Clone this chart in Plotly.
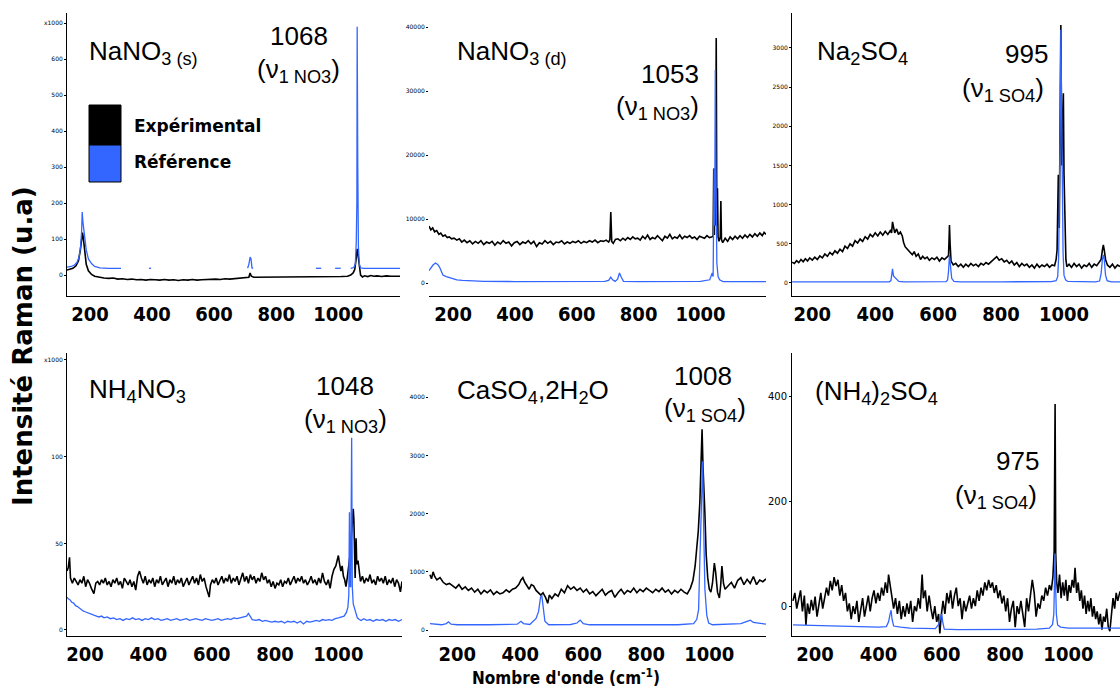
import plotly.graph_objects as go

# ---------------- DATA (wavenumber cm-1, intensity a.u.) ----------------
NANO3_S_EXP = [(126,14),(135,16),(145,19),(155,26),(163,40),(169,70),(173,105),(176,118),(179,100),(183,60),(188,30),(195,12),(205,2),(215,-3),(230,-6),(245,-8),(260,-9),(275,-8),(290,-11),(305,-10),(320,-12),(335,-11),(350,-13),(365,-12),(380,-14),(395,-12),(410,-13),(425,-14),(440,-12),(455,-14),(470,-13),(485,-15),(500,-13),(515,-14),(530,-12),(545,-14),(560,-13),(575,-12),(590,-13),(605,-11),(620,-12),(635,-10),(650,-11),(665,-10),(680,-9),(695,-9),(705,-8),(712,-6),(716,6),(720,-3),(728,-6),(745,-6),(770,-5),(800,-6),(830,-5),(860,-6),(890,-5),(920,-6),(950,-5),(980,-5),(1010,-4),(1030,-3),(1040,0),(1048,6),(1053,15),(1057,40),(1061,73),(1064,55),(1068,20),(1072,0),(1078,-5),(1085,-2),(1095,-4),(1105,-1),(1115,-3),(1125,-2),(1140,-4),(1155,-2),(1170,-3),(1185,-2),(1199,-3)]
NANO3_S_REF = [(126,22),(140,24),(150,28),(158,35),(165,50),(170,80),(173,120),(175,175),(177,150),(180,125),(184,110),(188,70),(195,45),(205,32),(215,24),(232,20),(260,19),(300,19),(None,None),(390,19),(397,19),(None,None),(708,19),(712,30),(716,50),(719,45),(722,20),(726,19),(None,None),(928,19),(945,19),(None,None),(990,19),(1008,19),(None,None),(1040,19),(1050,21),(1055,30),(1058,90),(1060,200),(1061,690),(1063,300),(1065,80),(1068,30),(1072,20),(1085,19),(1199,19)]

NANO3_D_EXP = [(122,8900),(128,8300),(134,8600),(140,8000),(147,8200),(154,7600),(160,7800),(167,7300),(174,7500),(181,7100),(188,7200),(195,6900),(203,7000),(212,6700),(220,6900),(228,6400),(236,6700),(245,6300),(254,6600),(263,6100),(272,6500),(281,6200),(290,6600),(299,6000),(308,6400),(317,6200),(326,6500),(335,5900),(344,6400),(353,6100),(362,6600),(371,6200),(380,6400),(389,5800),(398,6300),(407,6500),(416,6000),(425,6400),(434,6200),(443,6600),(452,6100),(461,6500),(470,5700),(479,6300),(488,6100),(497,6600),(506,6200),(515,6500),(524,6000),(533,6400),(542,6300),(551,6600),(560,6100),(569,6400),(578,6200),(587,6500),(596,6300),(605,6600),(614,6200),(623,6500),(632,6300),(641,6600),(650,6400),(659,6700),(668,6300),(677,6600),(686,6500),(695,6700),(703,6400),(707,6800),(710,11100),(713,6500),(718,6200),(725,6800),(733,6900),(741,6600),(749,7000),(757,6700),(765,7100),(773,6800),(781,7200),(789,6900),(797,7000),(805,6700),(813,7300),(821,6900),(829,7500),(837,6800),(845,7100),(853,6900),(861,7400),(869,7000),(877,6600),(885,7300),(893,7000),(901,7600),(909,6900),(917,7200),(925,7000),(933,7500),(941,6900),(949,7300),(957,7100),(965,7400),(973,7000),(981,7200),(989,6800),(997,7300),(1005,7100),(1013,7000),(1021,7400),(1029,7100),(1036,7200),(1041,7300),(1043,17900),(1045,7500),(1047,17900),(1049,9000),(1051,38300),(1053,9000),(1055,14800),(1057,7200),(1060,6500),(1064,7200),(1066,12800),(1068,6800),(1072,6300),(1080,7000),(1088,6500),(1096,7200),(1104,6800),(1112,7300),(1120,6900),(1128,7400),(1136,7000),(1144,7500),(1152,7100),(1160,7600),(1168,7200),(1176,7700),(1184,7300),(1192,7800),(1200,7400),(1206,7900),(1212,7600)]
NANO3_D_REF = [(122,1930),(129,2500),(135,2810),(143,3125),(150,2900),(156,2500),(162,1800),(167,1250),(178,1000),(189,860),(200,650),(212,500),(230,400),(255,340),(300,250),(400,230),(500,230),(600,230),(650,220),(690,240),(703,400),(710,920),(716,500),(724,250),(732,600),(738,1560),(744,900),(751,250),(800,230),(900,230),(1000,240),(1030,500),(1038,1560),(1041,1000),(1044,17900),(1046,9000),(1048,33300),(1050,18000),(1053,3125),(1057,1000),(1062,500),(1073,230),(1100,230),(1150,230),(1212,230)]

NA2SO4_EXP = [(136,264),(143,250),(150,285),(157,260),(164,300),(171,270),(178,310),(185,280),(192,320),(200,293),(208,330),(216,300),(224,345),(232,320),(240,370),(248,340),(256,390),(264,360),(272,410),(280,380),(288,430),(296,400),(304,470),(312,440),(320,500),(328,470),(336,540),(344,510),(352,560),(360,530),(368,590),(376,560),(384,620),(392,590),(400,640),(408,600),(416,650),(424,610),(432,660),(440,620),(448,670),(452,640),(455,780),(458,700),(462,640),(468,690),(474,620),(480,650),(486,600),(490,520),(495,463),(500,440),(506,410),(512,380),(518,360),(524,400),(530,340),(537,370),(544,300),(551,340),(558,310),(565,330),(572,290),(580,320),(588,300),(596,330),(604,280),(612,320),(620,300),(628,330),(633,350),(635,600),(636,740),(638,500),(641,280),(648,230),(656,250),(664,210),(672,240),(680,200),(688,240),(696,210),(704,250),(712,220),(720,240),(728,210),(736,250),(744,230),(752,260),(760,240),(768,270),(776,300),(786,336),(794,290),(802,310),(810,270),(818,290),(826,250),(834,280),(842,230),(850,260),(858,210),(866,250),(874,220),(882,240),(890,200),(898,230),(906,190),(914,240),(922,200),(930,230),(938,210),(946,240),(954,200),(962,230),(970,220),(975,300),(978,421),(982,1380),(985,700),(988,1800),(990,3290),(993,1500),(996,2000),(998,2420),(1000,1400),(1003,676),(1006,300),(1009,208),(1016,240),(1024,200),(1032,250),(1040,210),(1048,240),(1056,190),(1064,230),(1072,210),(1080,250),(1088,200),(1096,240),(1104,220),(1112,260),(1118,300),(1122,420),(1125,485),(1128,420),(1132,300),(1138,230),(1146,200),(1154,240),(1162,190),(1170,230),(1178,210)]
NA2SO4_REF = [(136,15),(200,15),(300,15),(400,15),(445,15),(450,30),(453,100),(455,180),(458,90),(462,70),(468,40),(475,20),(490,15),(600,15),(625,18),(630,40),(633,150),(636,357),(639,200),(643,60),(650,20),(670,15),(800,15),(900,15),(960,18),(975,30),(980,80),(983,330),(986,1200),(988,2000),(990,3230),(992,2500),(994,1199),(997,400),(1000,100),(1005,40),(1012,20),(1050,15),(1100,15),(1113,25),(1118,120),(1122,300),(1125,357),(1128,300),(1132,100),(1137,30),(1150,15),(1178,15)]

NH4NO3_EXP = [(143,34),(147,36),(151,42),(154,30),(160,27),(166,30),(172,28),(178,26),(184,29),(190,27),(196,31),(202,25),(208,29),(214,27),(220,24),(228,21),(234,27),(240,28),(246,26),(252,29),(258,27),(264,30),(270,26),(276,28),(282,25),(288,29),(294,27),(300,30),(306,26),(312,28),(318,24),(324,30),(330,28),(336,26),(342,29),(348,25),(354,28),(360,23),(366,31),(372,34),(378,30),(384,27),(390,31),(396,26),(402,29),(408,27),(414,30),(420,25),(426,29),(432,27),(438,31),(444,26),(450,28),(456,30),(462,25),(468,29),(474,27),(480,31),(486,26),(492,29),(498,27),(504,30),(510,25),(516,28),(522,30),(528,26),(534,29),(540,31),(546,27),(552,30),(558,26),(564,32),(570,28),(576,30),(582,25),(588,22),(592,19),(596,26),(602,29),(608,27),(614,30),(620,26),(626,29),(632,31),(638,27),(644,30),(650,28),(656,32),(662,27),(668,30),(674,28),(680,31),(686,26),(692,30),(698,33),(704,28),(710,31),(716,27),(722,32),(728,29),(734,31),(740,27),(746,30),(752,28),(758,33),(764,29),(770,31),(776,27),(782,29),(788,25),(794,28),(800,24),(806,27),(812,26),(818,29),(824,25),(830,28),(836,27),(842,30),(848,26),(854,29),(860,31),(866,27),(872,30),(878,28),(884,31),(890,27),(896,29),(902,26),(908,28),(914,31),(920,27),(926,29),(932,26),(938,30),(944,27),(950,33),(956,28),(962,26),(968,29),(974,24),(980,31),(986,35),(992,37),(996,40),(1000,43),(1004,38),(1008,34),(1012,37),(1016,31),(1020,29),(1024,25),(1028,30),(1032,35),(1036,42),(1040,50),(1044,60),(1047,70),(1049,64),(1051,40),(1053,30),(1056,53),(1058,38),(1062,40),(1066,33),(1070,28),(1076,31),(1082,27),(1088,30),(1094,28),(1100,32),(1106,27),(1112,29),(1118,26),(1124,31),(1130,28),(1136,30),(1142,27),(1148,31),(1154,26),(1160,29),(1166,27),(1172,30),(1178,25),(1184,29),(1190,27),(1196,22),(1201,28)]
NH4NO3_REF = [(143,19),(147,18),(152,17.5),(158,16),(164,15.5),(170,14),(176,13.5),(182,12.5),(188,12),(194,11),(200,10.5),(206,10),(212,9.5),(220,9),(228,8.5),(236,8),(244,7.5),(252,8),(260,7),(270,7.5),(280,6.5),(290,7),(300,6),(310,6.5),(320,5.5),(330,6.5),(340,6),(350,7),(360,6),(370,6.5),(380,5.5),(390,6.5),(400,6),(410,7),(420,6),(430,6.5),(440,5.5),(450,6),(460,6.5),(470,5.5),(480,6),(490,6.5),(500,5.5),(510,6),(520,6.5),(530,5.5),(540,6),(550,6.5),(560,6),(570,5.5),(580,6.5),(590,6),(600,5.5),(610,6),(620,6.5),(630,5.5),(640,6),(650,6.5),(660,6),(670,7),(680,6.5),(690,7),(700,7.5),(710,8),(716,9.5),(722,8),(728,6),(740,5.5),(750,6),(760,5),(770,5.5),(780,5),(790,4.5),(800,5),(810,4.5),(820,5),(830,4),(840,5),(850,4.5),(860,5),(870,4),(880,5),(890,3.5),(900,5),(910,4.5),(920,5),(930,5.5),(940,5),(950,6),(960,5.5),(970,6),(980,5.5),(990,6.5),(1000,7),(1010,7.5),(1018,8),(1025,10),(1030,13),(1033,20),(1035,68),(1037,25),(1039,25),(1042,111),(1044,25),(1047,15),(1050,13),(1055,10),(1060,7),(1066,6),(1072,5.5),(1080,6.5),(1090,5.5),(1100,6),(1110,5),(1120,6),(1130,5.5),(1140,6),(1150,5),(1160,6),(1170,5.5),(1180,6),(1190,5),(1201,6)]

GYPSUM_EXP = [(113,950),(118,880),(123,1000),(128,920),(135,860),(145,900),(155,820),(165,780),(175,800),(185,760),(195,720),(205,780),(215,700),(225,740),(235,680),(245,720),(255,650),(265,700),(275,620),(285,680),(295,640),(305,690),(315,610),(325,660),(335,620),(345,640),(355,690),(365,650),(375,700),(385,720),(395,780),(402,860),(408,900),(414,820),(420,760),(428,700),(435,780),(442,760),(450,680),(458,640),(465,600),(472,640),(480,560),(487,460),(492,600),(500,540),(510,620),(520,580),(530,700),(540,640),(550,760),(560,700),(570,740),(580,680),(590,720),(600,650),(610,700),(620,620),(630,660),(640,590),(650,640),(660,700),(670,600),(680,650),(690,680),(700,560),(710,640),(720,700),(730,620),(740,680),(750,650),(760,720),(770,640),(780,700),(790,660),(800,720),(810,680),(820,640),(830,700),(840,660),(850,720),(860,650),(870,690),(880,620),(890,680),(900,640),(910,700),(920,650),(930,620),(940,720),(948,850),(955,1100),(960,1400),(965,1700),(970,2200),(974,2900),(977,3450),(980,2800),(983,2500),(986,2000),(990,1300),(995,900),(1000,700),(1005,650),(1010,800),(1016,1150),(1020,1000),(1026,650),(1032,550),(1036,760),(1040,1100),(1045,800),(1050,700),(1060,760),(1070,820),(1080,720),(1090,850),(1100,900),(1110,780),(1120,870),(1130,800),(1140,920),(1150,780),(1160,860),(1170,830),(1180,880)]
GYPSUM_REF = [(113,110),(130,95),(150,90),(165,110),(172,140),(180,100),(200,90),(300,90),(390,100),(402,150),(410,110),(430,95),(450,200),(458,320),(464,560),(468,600),(472,450),(478,150),(490,90),(560,95),(580,120),(590,170),(600,110),(620,90),(900,90),(950,110),(960,180),(966,350),(970,1200),(975,2000),(979,2900),(982,1800),(986,700),(992,250),(998,120),(1010,90),(1050,100),(1100,110),(1120,150),(1130,170),(1140,130),(1160,110),(1180,100)]

NH42SO4_EXP = [(130,10),(136,25),(142,-5),(148,15),(154,30),(160,-10),(166,20),(171,-36),(176,5),(182,-15),(188,12),(194,-8),(200,18),(206,-20),(212,8),(218,25),(224,-5),(230,15),(236,35),(242,20),(248,48),(254,30),(260,55),(266,38),(272,50),(278,20),(284,40),(290,10),(296,25),(302,-10),(308,5),(314,-25),(320,0),(326,-15),(332,10),(338,-30),(344,-5),(350,15),(356,-20),(362,0),(368,20),(374,-10),(380,15),(386,30),(392,5),(398,25),(404,10),(410,35),(416,20),(422,45),(428,25),(432,60),(436,40),(442,20),(448,-5),(454,15),(460,-15),(466,10),(472,-25),(478,0),(484,-20),(490,5),(496,-15),(502,10),(508,-30),(514,0),(520,-10),(526,15),(532,-5),(538,60),(542,15),(548,30),(554,-10),(560,20),(566,-5),(572,-25),(578,0),(584,-30),(590,-15),(594,-52),(598,-20),(604,10),(610,-15),(616,25),(622,5),(628,30),(634,-5),(640,20),(646,35),(652,0),(658,15),(664,-25),(670,10),(676,-10),(682,5),(688,20),(694,-5),(700,15),(706,0),(712,30),(718,10),(724,35),(730,20),(736,45),(742,30),(748,50),(754,35),(760,45),(766,25),(772,40),(778,15),(784,30),(790,5),(796,20),(802,-10),(808,15),(814,-30),(820,-5),(826,10),(832,-40),(838,0),(844,-15),(850,10),(856,-20),(862,-40),(868,15),(874,-10),(880,20),(886,50),(892,25),(898,-20),(904,5),(910,-5),(916,20),(922,10),(928,35),(934,20),(940,40),(946,30),(951,55),(955,105),(958,385),(960,100),(963,45),(967,25),(972,60),(977,15),(982,45),(987,20),(992,50),(997,10),(1002,40),(1007,25),(1012,50),(1017,35),(1021,73),(1026,25),(1031,45),(1036,10),(1041,30),(1046,-5),(1051,20),(1056,-15),(1061,10),(1066,-10),(1071,15),(1076,-20),(1081,0),(1086,-25),(1091,-10),(1096,-35),(1101,-15),(1106,-45),(1111,-20),(1116,-30),(1121,-5),(1126,-40),(1131,-48),(1136,-10),(1141,15),(1146,-5),(1151,25),(1156,10),(1163,28)]
NH42SO4_REF = [(130,-36),(200,-37),(300,-39),(400,-40),(425,-39),(432,-30),(437,-15),(440,-8),(443,-25),(448,-38),(470,-40),(500,-42),(580,-43),(590,-35),(596,-22),(600,-15),(603,-30),(608,-44),(650,-45),(700,-45),(800,-45),(900,-44),(940,-42),(950,-35),(954,-15),(956,60),(958,100),(960,30),(962,-15),(966,-36),(975,-40),(1000,-42),(1100,-42),(1163,-42)]

X_TICKS = [200, 400, 600, 800, 1000]
X_TICK_TEXT = ["200", "400", "600", "800", "1000"]

NAMES = ["NaNO<sub>3 (s)</sub>", "NaNO<sub>3 (d)</sub>", "Na<sub>2</sub>SO<sub>4</sub>",
         "NH<sub>4</sub>NO<sub>3</sub>", "CaSO<sub>4</sub>,2H<sub>2</sub>O", "(NH<sub>4</sub>)<sub>2</sub>SO<sub>4</sub>"]
PEAKS = ["1068", "1053", "995", "1048", "1008", "975"]
MODES = ["(ν<sub>1 NO3</sub>)", "(ν<sub>1 NO3</sub>)", "(ν<sub>1 SO4</sub>)",
         "(ν<sub>1 NO3</sub>)", "(ν<sub>1 SO4</sub>)", "(ν<sub>1 SO4</sub>)"]

Y_TICKS = [[0, 100, 200, 300, 400, 500, 600, 700],
           [0, 10000, 20000, 30000, 40000],
           [0, 500, 1000, 1500, 2000, 2500, 3000],
           [0, 50, 100, 156],
           [0, 1000, 2000, 3000, 4000],
           [0, 200, 400]]
Y_TICK_TEXT = [["0", "100", "200", "300", "400", "500", "600", "x1000"],
               ["0", "10000", "20000", "30000", "40000"],
               ["0", "500", "1000", "1500", "2000", "2500", "3000"],
               ["0", "50", "100", "x1000"],
               ["0", "1000", "2000", "3000", "4000"],
               ["0", "200", "400"]]

# ---------------- LAYOUT (pixel geometry) ----------------
W, H = 1120, 692
def fx(px): return px / W
def fy(py): return 1 - py / H

BLUE = "#3366ff"
SERIES = [(NANO3_S_EXP, NANO3_S_REF), (NANO3_D_EXP, NANO3_D_REF), (NA2SO4_EXP, NA2SO4_REF),
          (NH4NO3_EXP, NH4NO3_REF), (GYPSUM_EXP, GYPSUM_REF), (NH42SO4_EXP, NH42SO4_REF)]
PANEL_X = [(67, 400), (429, 766), (792, 1120), (67, 402), (429, 766), (792, 1120)]
PANEL_Y = [(296, 13), (296, 13), (296, 13), (636, 353), (636, 353), (636, 353)]
X_RANGE = [[126, 1199], [122, 1212], [135.5, 1178], [143, 1201], [110, 1180], [127, 1163]]
Y_RANGE = [[-58, 728], [-2031, 42188], [-166, 3444], [-3.5, 160], [-103, 4760], [-57, 482]]
Y_LINE = [True, False, True, True, False, True]
Y_FONT = [6, 6, 6, 6, 6, 10]

NAME_POS = [(87, 52), (455, 52), (815, 52), (87, 390), (455, 391), (813, 392)]
PEAK_POS = [(299, 36), (670, 74), (1026, 54), (345, 386), (703, 376), (1017, 461)]
MODE_POS = [(298, 70), (657, 108), (1003, 90), (345, 420), (705, 410), (996, 496)]

fig = go.Figure()
layout = {}
annotations = []
tickfont_x = dict(family="DejaVu Sans Condensed, DejaVu Sans, sans-serif", size=20,
                  color="black", weight="bold")
for i, (exp, ref) in enumerate(SERIES):
    n = "" if i == 0 else str(i + 1)
    for data, col, wd in ((exp, "black", 1.6), (ref, BLUE, 1.3)):
        fig.add_trace(go.Scatter(x=[p[0] for p in data], y=[p[1] for p in data], mode="lines",
                                 line=dict(color=col, width=wd), connectgaps=False,
                                 xaxis="x" + n, yaxis="y" + n, showlegend=False, hoverinfo="skip"))
    layout["xaxis" + n] = dict(domain=[fx(PANEL_X[i][0]), fx(PANEL_X[i][1])], range=X_RANGE[i],
                               anchor="y" + n, showgrid=False, zeroline=False, showline=True,
                               linecolor="black", linewidth=1, tickvals=X_TICKS, ticktext=X_TICK_TEXT,
                               ticks="", tickfont=tickfont_x)
    layout["yaxis" + n] = dict(domain=[fy(PANEL_Y[i][0]), fy(PANEL_Y[i][1])], range=Y_RANGE[i],
                               anchor="x" + n, showgrid=False, zeroline=False, showline=Y_LINE[i],
                               linecolor="black", linewidth=1, tickvals=Y_TICKS[i],
                               ticktext=Y_TICK_TEXT[i], ticks="outside", ticklen=2, tickcolor="black",
                               tickfont=dict(family="DejaVu Sans", size=Y_FONT[i], color="black"))
    annotations.append(dict(text=NAMES[i], x=fx(NAME_POS[i][0]), y=fy(NAME_POS[i][1]),
                            xref="paper", yref="paper", xanchor="left", yanchor="middle", showarrow=False,
                            font=dict(family="Liberation Sans, Arial, sans-serif", size=26, color="black")))
    annotations.append(dict(text=PEAKS[i], x=fx(PEAK_POS[i][0]), y=fy(PEAK_POS[i][1]),
                            xref="paper", yref="paper", xanchor="center", yanchor="middle", showarrow=False,
                            font=dict(family="Liberation Sans, Arial, sans-serif", size=26, color="black")))
    annotations.append(dict(text=MODES[i], x=fx(MODE_POS[i][0]), y=fy(MODE_POS[i][1]),
                            xref="paper", yref="paper", xanchor="center", yanchor="middle", showarrow=False,
                            font=dict(family="Liberation Sans, Arial, sans-serif", size=26, color="black")))

# legend
annotations.append(dict(text="Expérimental", x=fx(132), y=fy(126), xref="paper", yref="paper",
                        xanchor="left", yanchor="middle", showarrow=False,
                        font=dict(family="DejaVu Sans", size=17, color="black", weight="bold")))
annotations.append(dict(text="Référence", x=fx(132), y=fy(162), xref="paper", yref="paper",
                        xanchor="left", yanchor="middle", showarrow=False,
                        font=dict(family="DejaVu Sans", size=17, color="black", weight="bold")))
# axis titles
annotations.append(dict(text="Intensité Raman (u.a)", x=fx(23), y=fy(346), xref="paper", yref="paper",
                        xanchor="center", yanchor="middle", textangle=-90, showarrow=False,
                        font=dict(family="DejaVu Sans", size=26, color="black", weight="bold")))
annotations.append(dict(text="Nombre d'onde (cm<sup>-1</sup>)", x=fx(566), y=fy(677), xref="paper",
                        yref="paper", xanchor="center", yanchor="middle", showarrow=False,
                        font=dict(family="DejaVu Sans Condensed, DejaVu Sans", size=17, color="black",
                                  weight="bold")))

shapes = [
    dict(type="rect", xref="paper", yref="paper", x0=fx(89), x1=fx(121), y0=fy(145), y1=fy(105),
         fillcolor="black", line=dict(color="black", width=1)),
    dict(type="rect", xref="paper", yref="paper", x0=fx(89), x1=fx(121), y0=fy(182), y1=fy(145),
         fillcolor=BLUE, line=dict(color="black", width=1)),
]

fig.update_layout(width=W, height=H, margin=dict(l=0, r=0, t=0, b=0), paper_bgcolor="white",
                  plot_bgcolor="white", annotations=annotations, shapes=shapes, showlegend=False,
                  **layout)
fig.write_html("out.html", config={"displayModeBar": False},
               post_script="document.body.style.margin='0px';")
